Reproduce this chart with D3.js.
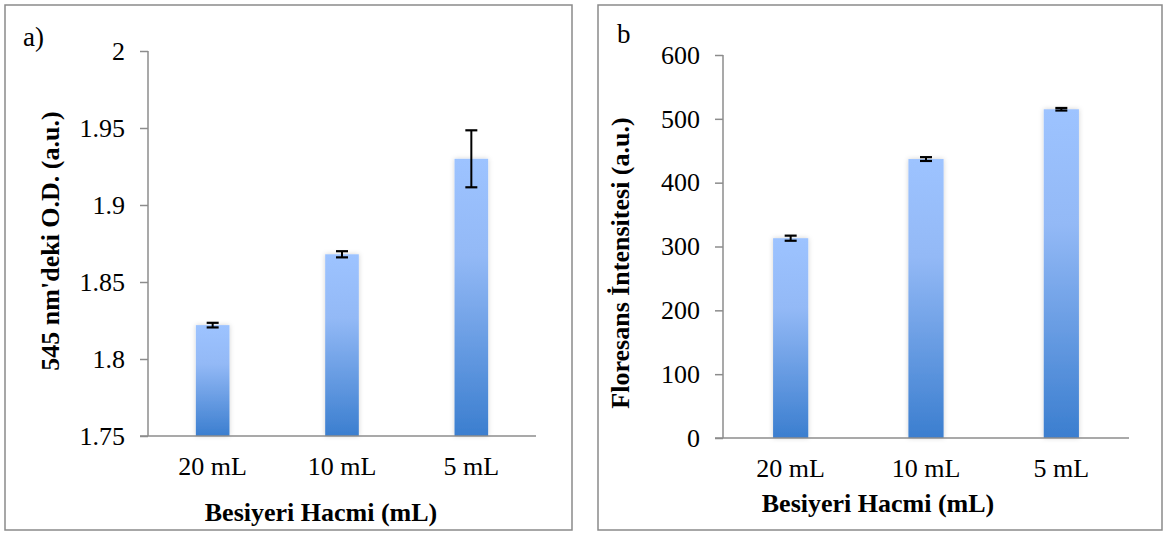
<!DOCTYPE html>
<html><head><meta charset="utf-8">
<script src="https://cdn.jsdelivr.net/npm/d3@7"></script>
<style>
body{margin:0;background:#fff;}
svg{display:block;}
svg text{font-family:"Liberation Serif","Times New Roman",Times,serif !important;fill:#000;}
</style></head>
<body>
<svg id="chart" width="1164" height="533"></svg>
<script>
const categories = ["20 mL", "10 mL", "5 mL"];
const odValues = [1.822, 1.868, 1.930];
const odErrors = [0.0015, 0.002, 0.0185];
const odTicks = [1.75, 1.8, 1.85, 1.9, 1.95, 2];
const flValues = [313, 437, 515];
const flErrors = [4, 3, 2];
const flTicks = [0, 100, 200, 300, 400, 500, 600];

const svg = d3.select("#chart");
const defs = svg.append("defs");
const grad = defs.append("linearGradient").attr("id","barGrad").attr("x1",0).attr("y1",0).attr("x2",0).attr("y2",1);
grad.append("stop").attr("offset","0%").attr("stop-color","#9dc3ff");
grad.append("stop").attr("offset","35%").attr("stop-color","#93b9f6");
grad.append("stop").attr("offset","100%").attr("stop-color","#3b7ecf");
const f = defs.append("filter").attr("id","shadow").attr("x","-50%").attr("y","-10%").attr("width","200%").attr("height","120%");
f.append("feDropShadow").attr("dx",0).attr("dy",0).attr("stdDeviation",2.5).attr("flood-color","#000").attr("flood-opacity",0.18);

function panel(opt){
  const g = svg.append("g");
  g.append("rect").attr("x",opt.box[0]).attr("y",opt.box[1]).attr("width",opt.box[2]).attr("height",opt.box[3])
    .attr("fill","#fff").attr("stroke","#8a8a8a").attr("stroke-width",1.5);
  const x = d3.scaleBand().domain(categories).range([opt.x0, opt.x1]).paddingInner(0.74).paddingOuter(0.37);
  const y = d3.scaleLinear().domain([opt.ticks[0], opt.ticks[opt.ticks.length-1]]).range([opt.y0, opt.y1]);
  g.selectAll("rect.bar").data(opt.values).join("rect").attr("class","bar")
    .attr("x",(d,i)=>x(categories[i])).attr("width",x.bandwidth())
    .attr("y",d=>y(d)).attr("height",d=>opt.y0-y(d))
    .attr("fill","url(#barGrad)").attr("filter","url(#shadow)");
  const ya = d3.axisLeft(y).tickValues(opt.ticks).tickSize(8).tickPadding(15).tickFormat(d3.format(""));
  const yg = g.append("g").attr("transform",`translate(${opt.x0},0)`).call(ya).attr("font-family",null).attr("font-size",null);
  yg.select(".domain").attr("stroke","#8c8c8c").attr("stroke-width",1.5).attr("d",`M0,${opt.y0}V${opt.y1}`);
  yg.selectAll(".tick line").attr("stroke","#8c8c8c").attr("stroke-width",1.5);
  yg.selectAll(".tick text").style("font-size","26px");
  const xa = d3.axisBottom(x).tickSize(0).tickPadding(21);
  const xg = g.append("g").attr("transform",`translate(0,${opt.y0})`).call(xa).attr("font-family",null).attr("font-size",null);
  xg.select(".domain").attr("stroke","#8c8c8c").attr("stroke-width",1.5).attr("d",`M${opt.x0-8},0H${opt.x1}`);
  xg.selectAll(".tick text").style("font-size","26px");
  const eb = g.selectAll("g.err").data(opt.values).join("g").attr("class","err");
  eb.each(function(d,i){
    const cx = x(categories[i]) + x.bandwidth()/2;
    const e = opt.errors[i];
    const s = d3.select(this);
    s.append("line").attr("x1",cx).attr("x2",cx).attr("y1",y(d+e)).attr("y2",y(d-e)).attr("stroke","#000").attr("stroke-width",2);
    [d+e, d-e].forEach(v=>s.append("line").attr("x1",cx-6).attr("x2",cx+6).attr("y1",y(v)).attr("y2",y(v)).attr("stroke","#000").attr("stroke-width",2.2));
  });
  g.append("text").attr("x",opt.xtitle[0]).attr("y",opt.xtitle[1]).attr("text-anchor","middle")
    .style("font-size","26px").style("font-weight","bold").text("Besiyeri Hacmi (mL)");
  g.append("text").attr("transform",`translate(${opt.ytitle[0]},${opt.ytitle[1]}) rotate(-90)`).attr("text-anchor","middle")
    .style("font-size","26px").style("font-weight","bold").text(opt.ylabel);
  g.append("text").attr("x",opt.tag[0]).attr("y",opt.tag[1]).style("font-size","27px").text(opt.tagText);
}

panel({box:[5,5,567,525], x0:148, x1:536, y0:436, y1:51, ticks:odTicks, values:odValues, errors:odErrors,
  xtitle:[321,521], ytitle:[59,241], ylabel:"545 nm'deki O.D. (a.u.)", tag:[23,46], tagText:"a)"});
panel({box:[598,5,564,525], x0:723, x1:1129, y0:438, y1:55, ticks:flTicks, values:flValues, errors:flErrors,
  xtitle:[878,512], ytitle:[629,263], ylabel:"Floresans İntensitesi (a.u.)", tag:[617,43], tagText:"b"});
</script>
</body></html>
